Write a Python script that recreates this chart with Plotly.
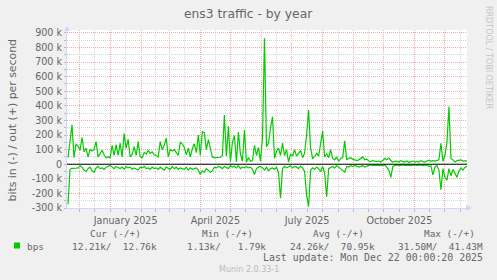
import pandas as pd
import plotly.graph_objects as go

# ---------------- data ----------------
title_text = "ens3 traffic - by year"
y_axis_title = "bits in (-) / out (+) per second"
series_name = "bps"

start_date = "2024-11-20"   # one sample every 2 days
step = "2D"

# outgoing traffic (+), kbit/s
out_kbps = [
    45, 150, 270, 45, 140, 125, 95, 185, 85, 110,
    50, 100, 90, 100, 155, 50, 75, 95, 65, 45,
    50, 45, 130, 60, 135, 60, 145, 50, 210, 110,
    170, 50, 65, 120, 60, 155, 50, 45, 80, 70,
    95, 75, 85, 65, 60, 50, 155, 100, 130, 178,
    50, 100, 90, 100, 80, 60, 150, 140, 115, 65,
    110, 50, 105, 140, 80, 200, 60, 225, 215, 100,
    168, 110, 50, 45, 45, 45, 48, 60, 338, 55,
    260, 18, 150, 196, 15, 220, 70, 20, 235, 15,
    45, 20, 25, 130, 60, 115, 20, 180, 863, 120,
    144, 250, 326, 41, 90, 110, 60, 144, 60, 100,
    15, 70, 55, 100, 55, 75, 95, 45, 75, 200,
    372, 110, 40, 50, 75, 55, 130, 228, 50, 70,
    45, 100, 40, 30, 50, 20, 40, 45, 160, 30,
    40, 45, 35, 30, 25, 30, 40, 50, 30, 35,
    22, 18, 25, 20, 18, 22, 15, 25, 40, 30,
    42, 25, 15, 20, 22, 15, 25, 18, 15, 22,
    12, 18, 22, 15, 20, 15, 25, 18, 15, 22,
    28, 20, 25, 22, 28, 30, 144, 20, 60, 150,
    395, 40, 30, 15, 25, 28, 30, 20, 25, 22,
]

# incoming traffic (-), kbit/s (magnitude, drawn below zero)
in_kbps = [
    275, 35, 28, 25, 27, 25, 10, 20, 40, 50,
    30, 20, 45, 55, 25, 15, 30, 25, 35, 20,
    15, 8, 20, 30, 15, 25, 30, 20, 35, 15,
    25, 20, 35, 25, 30, 40, 20, 25, 15, 30,
    25, 35, 20, 30, 25, 35, 20, 30, 40, 20,
    25, 35, 15, 30, 20, 35, 25, 30, 35, 20,
    40, 25, 35, 30, 25, 40, 70, 45, 55, 30,
    40, 55, 45, 20, 25, 15, 20, 30, 15, 25,
    30, 10, 20, 15, 25, 10, 30, 20, 25, 15,
    25, 20, 35, 70, 30, 20, 15, 25, 40, 20,
    45, 30, 25, 35, 20, 60, 233, 30, 15, 25,
    20, 10, 25, 15, 20, 30, 15, 25, 50, 210,
    290, 40, 25, 35, 20, 30, 50, 15, 60, 222,
    30, 20, 15, 25, 10, 20, 30, 45, 55, 15,
    20, 10, 15, 8, 12, 20, 15, 10, 20, 12,
    8, 5, 10, 6, 8, 5, 10, 8, 5, 20,
    40, 90, 15, 8, 5, 10, 6, 4, 8, 5,
    6, 10, 5, 4, 8, 6, 5, 10, 8, 5,
    15, 10, 73, 20, 10, 40, 175, 30, 90, 110,
    30, 80, 35, 60, 90, 45, 25, 40, 20, 15,
]

y_tick_values = [-300000, -200000, -100000, 0, 100000, 200000, 300000,
                 400000, 500000, 600000, 700000, 800000, 900000]
y_tick_labels = ["-300 k", "-200 k", "-100 k", "0", "100 k", "200 k", "300 k",
                 "400 k", "500 k", "600 k", "700 k", "800 k", "900 k"]
y_range = [-300000, 920000]

x_range = ["2024-11-19", "2025-12-23"]
month_first = "2024-12-01"
month_last = "2025-12-01"
x_label_months = {1: "January 2025", 4: "April 2025", 7: "July 2025", 10: "October 2025"}

legend_headers = ["Cur (-/+)", "Min (-/+)", "Avg (-/+)", "Max (-/+)"]
legend_values = ["12.21k/  12.76k", "1.13k/   1.79k", "24.26k/  70.95k", "31.50M/  41.43M"]
last_update = "Last update: Mon Dec 22 00:00:20 2025"
footer_text = "Munin 2.0.33-1"
watermark_text = "RRDTOOL / TOBI OETIKER"

# ---------------- layout helpers ----------------
W, H = 497, 280
ML, MR, MT, MB = 67, 30, 30, 72
PW, PH = W - ML - MR, H - MT - MB


def fx(x):
    return (x - ML) / PW


def fy(y):
    return (H - MB - y) / PH


GREEN = "#00CC00"
FONT_C = "#666666"
AXIS_C = "#CFD6F8"
TICK_C = "#B8B8C8"
MGRID = "#F4A8A8"
GRID = "#D6D6D6"
SANS = "DejaVu Sans"
MONO = "DejaVu Sans Mono"

dates = pd.date_range(start_date, periods=len(out_kbps), freq=step)
month_starts = pd.date_range(month_first, month_last, freq="MS")
mid_months = month_starts + pd.to_timedelta(month_starts.days_in_month * 12, unit="h")
x_tick_text = [x_label_months.get(d.month, "") for d in month_starts]
y_minor = [v + 50000 for v in y_tick_values[:-1]]

fig = go.Figure()
fig.add_trace(go.Scatter(x=dates, y=[v * 1000 for v in out_kbps], mode="lines",
                         line=dict(color=GREEN, width=1.2), name=series_name,
                         hoverinfo="skip"))
fig.add_trace(go.Scatter(x=dates, y=[-v * 1000 for v in in_kbps], mode="lines",
                         line=dict(color=GREEN, width=1.2), name=series_name,
                         hoverinfo="skip"))

fig.update_layout(
    width=W, height=H,
    margin=dict(l=ML, r=MR, t=MT, b=MB, pad=0),
    paper_bgcolor="#F0F0F0", plot_bgcolor="#FFFFFF",
    showlegend=False,
    font=dict(family=SANS, size=9.6, color=FONT_C),
)

fig.update_xaxes(
    type="date", range=x_range, fixedrange=True,
    tickmode="array", tickvals=mid_months, ticktext=x_tick_text,
    showgrid=True, gridcolor=GRID, griddash="1px,1px", gridwidth=1,
    ticks="outside", ticklen=3, tickcolor=TICK_C,
    showline=True, linecolor=AXIS_C, linewidth=1, zeroline=False,
    tickfont=dict(family=SANS, size=9.6, color=FONT_C),
    minor=dict(tickmode="array", tickvals=month_starts, showgrid=True,
               gridcolor=MGRID, griddash="1px,1px", gridwidth=1,
               ticks="outside", ticklen=3, tickcolor=TICK_C),
)
fig.update_yaxes(
    range=y_range, fixedrange=True,
    tickmode="array", tickvals=y_tick_values, ticktext=y_tick_labels,
    showgrid=True, gridcolor=MGRID, griddash="1px,1px", gridwidth=1,
    ticks="outside", ticklen=2, tickcolor=TICK_C,
    showline=True, linecolor=AXIS_C, linewidth=1, zeroline=False,
    tickfont=dict(family=SANS, size=9.6, color=FONT_C),
    minor=dict(tickmode="array", tickvals=y_minor, showgrid=True,
               gridcolor=GRID, griddash="1px,1px", gridwidth=1,
               ticks="outside", ticklen=2, tickcolor=TICK_C),
)

shapes = [
    # zero rule
    dict(type="line", xref="paper", yref="y", x0=0, x1=1, y0=0, y1=0,
         line=dict(color="#000000", width=1), layer="above"),
    # axis arrows
    dict(type="path", xref="paper", yref="paper", xsizemode="pixel", ysizemode="pixel",
         xanchor=0, yanchor=1, path="M -3,-1 L 3,-1 L 0,4 Z",
         fillcolor=AXIS_C, line=dict(width=0), layer="above"),
    dict(type="path", xref="paper", yref="paper", xsizemode="pixel", ysizemode="pixel",
         xanchor=1, yanchor=0, path="M -1,-3 L -1,3 L 5,0 Z",
         fillcolor=AXIS_C, line=dict(width=0), layer="above"),
    # legend swatch
    dict(type="rect", xref="paper", yref="paper", x0=fx(14), x1=fx(20),
         y0=fy(248.5), y1=fy(242.5), fillcolor=GREEN, line=dict(width=0)),
]


def ann(text, x, y, size, family=SANS, color=FONT_C, xanchor="center", angle=0):
    return dict(text=text.replace(" ", "\u00a0"), x=fx(x), y=fy(y), xref="paper", yref="paper",
                xanchor=xanchor, yanchor="middle", showarrow=False, textangle=angle,
                borderpad=0, borderwidth=0,
                font=dict(family=family, size=size, color=color))


annotations = [
    ann(title_text, 248.5, 14, 12.3),
    ann(y_axis_title, 11.5, 120, 10.9, angle=-90),
    ann(watermark_text, 489, 57, 8, color="#C4C4C4", angle=90),
    ann(series_name, 27, 246, 9.4, family=MONO, xanchor="left"),
    ann(last_update, 483, 257.5, 9.9, family=MONO, xanchor="right"),
    ann(footer_text, 248.5, 269, 8, color="#BBBBBB"),
]
header_x = [90, 202, 313, 424]
value_x = [72, 186.5, 289.5, 397.5]
for h, hx in zip(legend_headers, header_x):
    annotations.append(ann(h, hx, 233, 9.4, family=MONO, xanchor="left"))
for v, vx in zip(legend_values, value_x):
    annotations.append(ann(v, vx, 246, 9.4, family=MONO, xanchor="left"))

fig.update_layout(shapes=shapes, annotations=annotations)

fig.write_html("out.html", config={"displayModeBar": False, "staticPlot": True})
